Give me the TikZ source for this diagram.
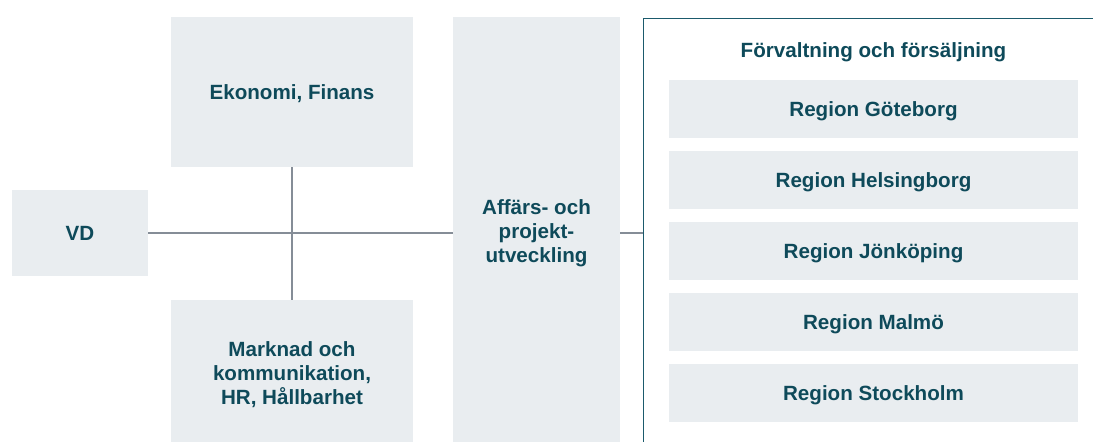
\documentclass[tikz,border=0pt]{standalone}
\usepackage{fontspec}
\setmainfont{Liberation Sans}
\definecolor{boxfill}{HTML}{E9EDF0}
\definecolor{linkgray}{HTML}{858D97}
\definecolor{labeltxt}{HTML}{0E4A5A}
\definecolor{frameteal}{HTML}{1B5A6C}
\begin{document}
\begin{tikzpicture}[x=1pt,y=-1pt,
  unit/.style={rectangle,fill=boxfill,inner sep=0pt,align=center,
    text=labeltxt,font=\fontsize{20.6}{24}\selectfont\bfseries},
  oneline/.style={text height=14.8pt,text depth=0pt},
  link/.style={draw=linkgray,line width=2.8pt},
  group/.style={rectangle,draw=frameteal,line width=1.3pt,fill=none,inner sep=0pt},
  title/.style={text=labeltxt,font=\fontsize{20.6}{24}\selectfont\bfseries,
    inner sep=0pt,oneline}]
\clip (0,0) rectangle (1093,442);
\fill[white] (0,0) rectangle (1093,442);

% left-hand units
\node[unit,oneline,minimum width=136pt,minimum height=86pt] (vd) at (80,233) {VD};
\node[unit,oneline,minimum width=242pt,minimum height=150pt] (eko) at (292,92) {Ekonomi, Finans};
\node[unit,minimum width=242pt,minimum height=150pt] (mark) at (292,375)
  {Marknad och\\kommunikation,\\HR, Hållbarhet};
\node[unit,minimum width=167pt,minimum height=432pt] (aff) at (536.5,233)
  {Affärs- och\\projekt-\\utveckling};

% region group frame (runs off the right and bottom edges)
\node[group,minimum width=480pt,minimum height=460pt,anchor=north west] (grp) at (642.5,17.5) {};
\node[title] (grptitle) at (873.5,50) {Förvaltning och försäljning};
\foreach \n/\y/\t in {gbg/109/Region Göteborg,hbg/180/Region Helsingborg,
    jkp/251/Region Jönköping,mlm/322/Region Malmö,sthlm/393/Region Stockholm}
  \node[unit,oneline,minimum width=409pt,minimum height=58pt] (\n) at (873.5,\y) {\t};

% connectors
\draw[link] (vd.east) -- (aff.west);
\draw[link] (eko.south) -- (mark.north);
\draw[link] (aff.east) -- (aff.east -| grp.west);
\end{tikzpicture}
\end{document}
